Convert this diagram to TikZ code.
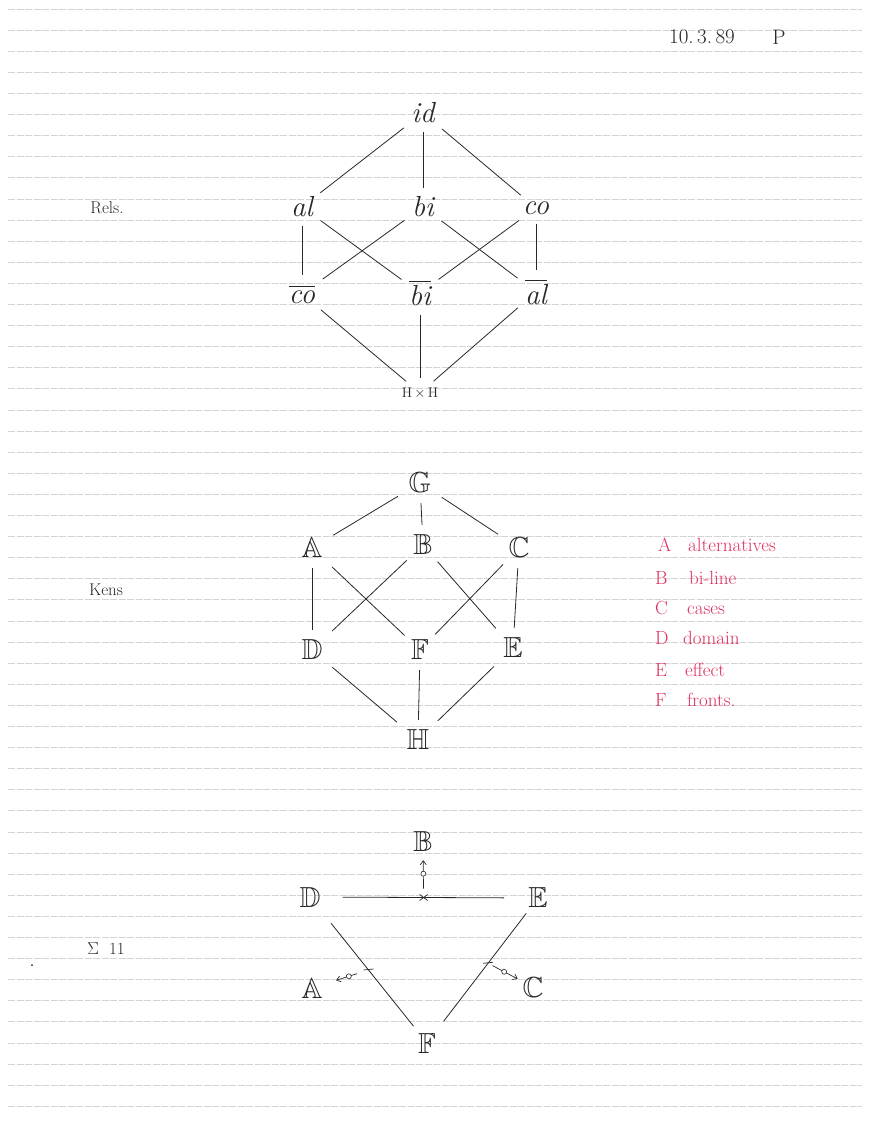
\documentclass[tikz,border=0pt]{standalone}
\usepackage{amssymb}
\usepackage{fontspec}
\usetikzlibrary{arrows.meta}
\definecolor{ink}{RGB}{40,40,40}
\definecolor{redink}{RGB}{222,48,92}
\definecolor{ruled}{RGB}{212,212,212}
\begin{document}
\begin{tikzpicture}[x=1pt,y=-1pt,
  lbl/.style={inner sep=1pt, text=ink, font=\fontsize{29}{29}\selectfont\itshape},
  letterbox/.style={inner sep=2pt, text=ink, font=\fontsize{29}{29}\selectfont},
  small/.style={inner sep=1pt, text=ink, font=\fontsize{17}{17}\selectfont},
  legend/.style={inner sep=1pt, text=redink, anchor=west, font=\fontsize{19}{19}\selectfont},
  edge/.style={draw=ink, line width=0.8pt, shorten <=8pt, shorten >=8pt},
  arr/.style={draw=ink, line width=0.7pt, -{Straight Barb[length=4pt,width=6pt]}},
  ring/.style={circle, draw=ink, line width=0.6pt, fill=white, inner sep=0pt, minimum size=5pt},
  rulel/.style={draw=ruled, line width=0.7pt, dash pattern=on 7pt off 1.5pt}]
\useasboundingbox (0,0) rectangle (868,1123);
\fill[white] (0,0) rectangle (868,1123);
\foreach \k in {0,...,52} \draw[rulel] (8,{9+21.1*\k}) -- (862,{9+21.1*\k});

% date
\node[small, font=\fontsize{21}{21}\selectfont] (date) at (702,37) {10.\,3.\,89};
\node[small, font=\fontsize{21}{21}\selectfont] (sig) at (779,37) {P};

% Rels
\node[small] (rels) at (107,208) {Rels.};
\node[lbl] (id) at (423,113) {id};
\node[lbl] (al) at (302,207) {al};
\node[lbl] (bi) at (423,207) {bi};
\node[lbl] (co) at (536,208) {co};
\node[lbl] (cob) at (302,294) {$\overline{\hbox{co}}$};
\node[lbl] (bib) at (420,293) {$\overline{\hbox{bi}}$};
\node[lbl] (alb) at (536,292) {$\overline{\hbox{al}}$};
\node[small, font=\fontsize{14}{14}\selectfont] (hh) at (420,393) {H\,$\times$\,H};
\draw[edge] (id) -- (al);
\draw[edge] (id) -- (bi);
\draw[edge] (id) -- (co);
\draw[edge] (al) -- (cob);
\draw[edge] (al) -- (bib);
\draw[edge] (bi) -- (cob);
\draw[edge] (bi) -- (alb);
\draw[edge] (co) -- (bib);
\draw[edge] (co) -- (alb);
\draw[edge] (cob) -- (hh);
\draw[edge] (bib) -- (hh);
\draw[edge] (alb) -- (hh);

% Kens
\node[small] (kens) at (106,590) {Kens};
\node[letterbox] (G) at (420,483) {$\mathbb{G}$};
\node[letterbox] (A) at (312,548) {$\mathbb{A}$};
\node[letterbox] (B) at (423,545) {$\mathbb{B}$};
\node[letterbox] (C) at (519,548) {$\mathbb{C}$};
\node[letterbox] (D) at (312,650) {$\mathbb{D}$};
\node[letterbox] (F) at (420,650) {$\mathbb{F}$};
\node[letterbox] (E) at (513,648) {$\mathbb{E}$};
\node[letterbox] (H) at (418,740) {$\mathbb{H}$};
\draw[edge, shorten <=10pt, shorten >=10pt] (G) -- (A);
\draw[edge] (G) -- (B);
\draw[edge, shorten <=10pt, shorten >=10pt] (G) -- (C);
\draw[edge] (A) -- (D);
\draw[edge, shorten <=10pt, shorten >=6pt] (A) -- (F);
\draw[edge, shorten <=6pt, shorten >=10pt] (B) -- (D);
\draw[edge, shorten <=6pt, shorten >=10pt] (B) -- (E);
\draw[edge, shorten <=6pt, shorten >=6pt] (C) -- (F);
\draw[edge] (C) -- (E);
\draw[edge, shorten <=10pt, shorten >=10pt] (D) -- (H);
\draw[edge] (F) -- (H);
\draw[edge, shorten <=10pt, shorten >=10pt] (E) -- (H);

% legend
\node[legend] (la) at (657,545) {\makebox[30pt][l]{A}alternatives};
\node[legend] (lb) at (654,578) {\makebox[34pt][l]{B}bi-line};
\node[legend] (lc) at (654,608) {\makebox[32pt][l]{C}cases};
\node[legend] (ld) at (654,638) {\makebox[28pt][l]{D}domain};
\node[legend] (le) at (654,670) {\makebox[30pt][l]{E}effect};
\node[legend] (lf) at (654,700) {\makebox[32pt][l]{F}fronts.};

% Sigma 11
\node[small] (sig11) at (106,949) {$\Sigma$\ \ 11};
\fill[ink] (32,965) circle (1pt);
\node[letterbox] (B2) at (423,842) {$\mathbb{B}$};
\node[letterbox] (D2) at (310,897) {$\mathbb{D}$};
\node[letterbox] (E2) at (538,898) {$\mathbb{E}$};
\node[letterbox] (A2) at (312,988) {$\mathbb{A}$};
\node[letterbox] (C2) at (533,987) {$\mathbb{C}$};
\node[letterbox] (F2) at (427,1043) {$\mathbb{F}$};
\draw[edge, shorten <=20pt, shorten >=22pt] (D2) -- (E2);
\draw[edge, shorten <=18pt, shorten >=6pt] (D2) -- (F2);
\draw[edge, shorten <=4pt, shorten >=12pt] (E2) -- (F2);
\path (D2) -- (E2) coordinate[pos=0.496] (xB);
\path (D2) -- (F2) coordinate[pos=0.50] (tA);
\path (E2) -- (F2) coordinate[pos=0.44] (tC);
\draw[ink, line width=0.7pt] (xB) +(-4,-3) -- +(4,3) (xB) +(-4,3) -- +(4,-3);
\draw[ink, line width=0.7pt] (tA) +(-5,0) -- +(5,-1);
\draw[ink, line width=0.7pt] (tC) +(-5,0) -- +(5,-1);
\draw[arr, shorten <=9pt, shorten >=6pt] (xB) -- (B2) node[ring, pos=0.55] {};
\draw[arr, shorten <=12pt, shorten >=12pt] (tA) -- (A2) node[ring, pos=0.45] {};
\draw[arr, shorten <=5pt, shorten >=3pt] (tC) -- (C2) node[ring, pos=0.5] {};
\end{tikzpicture}
\end{document}
